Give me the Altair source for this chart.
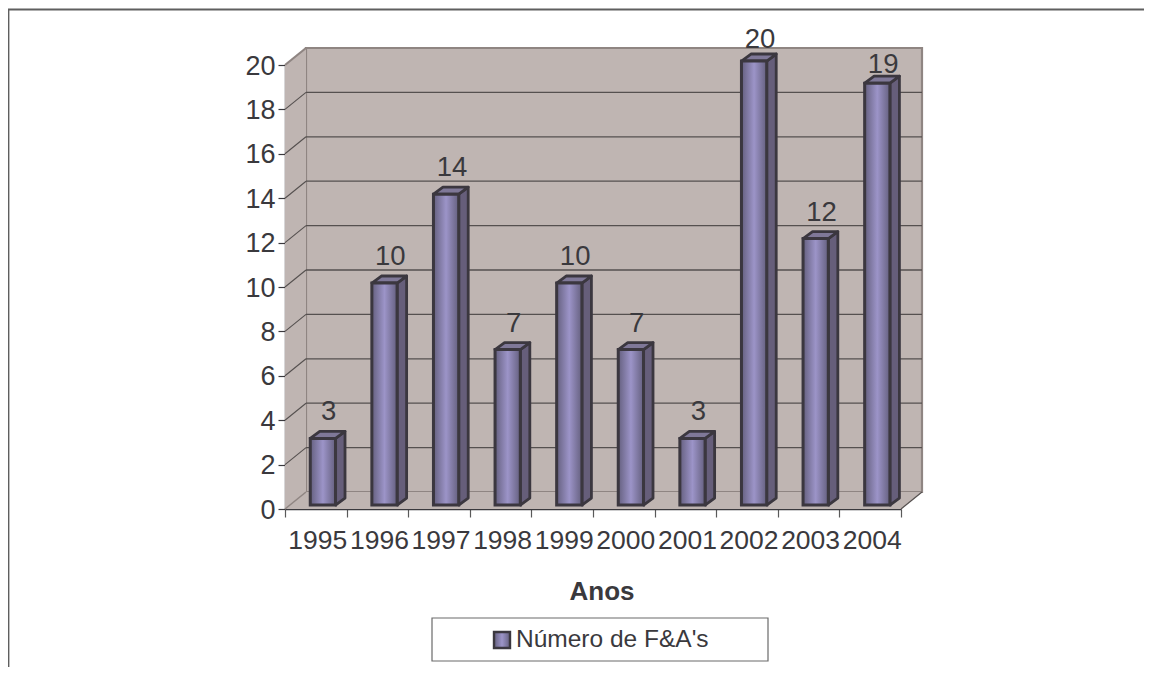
import altair as alt
import pandas as pd

years = [1995, 1996, 1997, 1998, 1999, 2000, 2001, 2002, 2003, 2004]
values = [3, 10, 14, 7, 10, 7, 3, 20, 12, 19]
y_ticks = list(range(0, 21, 2))
inner_grid = list(range(2, 19, 2))

FONT = "Liberation Sans"
INK = "#3a393d"
WALL = "#bfb5b2"
EDGE = "#8f8582"
GRID = "#55504f"
BAR_EDGE = "#3b373f"

# depth of the 3-D box, expressed in data units
XMIN, XMAX = 1995, 2005
PX_X, PX_Y = 616 / 10, 444 / 20
DX, DY = 21 / PX_X, 17 / PX_Y
BAR_L, BAR_R = 0.41, 0.82
BAR_DX, BAR_DY = 9.5 / PX_X, 7 / PX_Y
BASE = 0.18

x_scale = alt.Scale(domain=[XMIN, XMAX], nice=False, zero=False)
y_scale = alt.Scale(domain=[0, 20], nice=False)
X = lambda f: alt.X(f, type="quantitative", scale=x_scale, axis=None, title=None)
Y = lambda f: alt.Y(f, type="quantitative", scale=y_scale, axis=None, title=None)

face_gradient = alt.Gradient(
    gradient="linear", x1=0, x2=1, y1=0, y2=0,
    stops=[alt.GradientStop(color="#65607f", offset=0),
           alt.GradientStop(color="#9c94c8", offset=0.5),
           alt.GradientStop(color="#65607f", offset=1)],
)

# walls and floor
back = pd.DataFrame([dict(x=XMIN + DX, x2=XMAX + DX, y=DY, y2=20 + DY)])
back_wall = alt.Chart(back).mark_rect(fill=WALL, stroke=EDGE, strokeWidth=2.2).encode(
    x=X("x"), x2="x2", y=Y("y"), y2="y2")

side = pd.DataFrame([dict(x=XMIN, y=0, y2=20), dict(x=XMIN + DX, y=DY, y2=20 + DY)])
side_wall = alt.Chart(side).mark_area(fill=WALL, clip=False, opacity=1).encode(
    x=X("x"), y=Y("y"), y2="y2")
side_top = alt.Chart(side).mark_line(color=EDGE, strokeWidth=2.2).encode(
    x=X("x"), y=Y("y2"))

floor_df = pd.DataFrame([dict(y=0, x=XMIN, x2=XMAX), dict(y=DY, x=XMIN + DX, x2=XMAX + DX)])
floor = alt.Chart(floor_df).mark_area(fill=WALL, orient="horizontal", opacity=1).encode(
    y=Y("y"), x=X("x"), x2="x2")
floor_right = alt.Chart(pd.DataFrame([dict(x=XMAX, y=0, x2=XMAX + DX, y2=DY)])).mark_rule(
    color=GRID, strokeWidth=1.2).encode(x=X("x"), x2="x2", y=Y("y"), y2="y2")
floor_left = alt.Chart(pd.DataFrame([dict(x=XMIN, y=0, x2=XMIN + DX, y2=DY)])).mark_rule(
    color=EDGE, strokeWidth=1.6).encode(x=X("x"), x2="x2", y=Y("y"), y2="y2")

# gridlines
grid_df = pd.DataFrame([dict(v=v, v2=v + DY, a=XMIN, b=XMIN + DX, c=XMAX + DX) for v in inner_grid])
grid_back = alt.Chart(grid_df).mark_rule(color=GRID, strokeWidth=1.3).encode(
    x=X("b"), x2="c", y=Y("v2"))
grid_side = alt.Chart(grid_df).mark_rule(color=GRID, strokeWidth=1.1).encode(
    x=X("a"), x2="b", y=Y("v"), y2="v2")

# axes
y_axis = alt.Chart(pd.DataFrame({"v": y_ticks})).mark_point(opacity=0).encode(
    x=alt.value(0),
    y=alt.Y("v:Q", scale=y_scale, title=None, axis=alt.Axis(
        orient="left", values=y_ticks, grid=False, domainColor=INK, domainWidth=1.4, tickColor=INK,
        tickWidth=1.2, tickSize=7, labelFont=FONT, labelFontSize=27, labelColor=INK, labelPadding=3,
        labelOffset=1)),
)
edges = [XMIN + i for i in range(11)]
x_ticks = alt.Chart(pd.DataFrame({"e": edges})).mark_point(opacity=0).encode(
    y=alt.value(444),
    x=alt.X("e:Q", scale=x_scale, title=None, axis=alt.Axis(
        orient="bottom", values=edges, labels=False, grid=False, domainColor=INK, domainWidth=1.4,
        tickColor="#5a5a5a", tickWidth=1.2, tickSize=8)),
)
centres = [y + 0.5 for y in years]
x_labels = alt.Chart(pd.DataFrame({"c": centres})).mark_point(opacity=0).encode(
    y=alt.value(444),
    x=alt.X("c:Q", scale=x_scale, title="Anos", axis=alt.Axis(
        orient="bottom", values=centres, domain=False, ticks=False, grid=False,
        labelExpr="toString(floor(datum.value))",
        labelFont=FONT, labelFontSize=26.5, labelColor=INK, labelOverlap=False, labelPadding=18,
        labelOffset=1.5, labelFlush=False, labelBound=False, titleFont=FONT, titleFontSize=26,
        titleFontWeight="bold", titleColor=INK, titlePadding=25, titleX=316.5)),
)

# bars
bar_rows = [dict(year=y, value=v, l=y + BAR_L, r=y + BAR_R, base=BASE, top=v + BASE) for y, v in zip(years, values)]
bars = pd.DataFrame(bar_rows)

side_rows, top_rows = [], []
for row in bar_rows:
    side_rows += [dict(year=row["year"], x=row["r"], y=row["base"], y2=row["top"]),
                  dict(year=row["year"], x=row["r"] + BAR_DX, y=row["base"] + BAR_DY, y2=row["top"] + BAR_DY)]
    top_rows += [dict(year=row["year"], y=row["top"], x=row["l"], x2=row["r"]),
                 dict(year=row["year"], y=row["top"] + BAR_DY, x=row["l"] + BAR_DX, x2=row["r"] + BAR_DX)]

bar_side = alt.Chart(pd.DataFrame(side_rows)).mark_area(
    fill="#665e7a", stroke=BAR_EDGE, strokeWidth=2.8, opacity=1, strokeJoin="round").encode(
    x=X("x"), y=Y("y"), y2="y2", detail="year:N")
bar_top = alt.Chart(pd.DataFrame(top_rows)).mark_area(
    fill="#7f7898", stroke=BAR_EDGE, strokeWidth=2.8, opacity=1, orient="horizontal", strokeJoin="round").encode(
    y=Y("y"), x=X("x"), x2="x2", detail="year:N")
bar_front = alt.Chart(bars).mark_rect(fill=face_gradient, stroke=BAR_EDGE, strokeWidth=3).encode(
    x=X("l"), x2="r", y=Y("base"), y2="top")

label_df = bars.assign(cx=bars["l"] + 0.3, ly=bars["top"] + BAR_DY)


def value_labels(df, dy):
    return alt.Chart(df).mark_text(
        font=FONT, fontSize=27.5, color=INK, baseline="alphabetic", align="center", dy=dy).encode(
        x=X("cx"), y=Y("ly"), text="value:Q")


labels = [
    value_labels(label_df[label_df["value"] < 19], -11),
    value_labels(label_df[label_df["value"] == 19], -3),   # held under the top of the wall
    value_labels(label_df[label_df["value"] == 20], -6),
]

# outer frame and legend box, placed in the page
frame = pd.DataFrame([dict(x=0, x2=0)])
def hline(px0, px1, py, color="#5f5f5f", w=1.8):
    return alt.Chart(frame).mark_rule(color=color, strokeWidth=w).encode(
        x=alt.value(px0), x2=alt.value(px1), y=alt.value(py))
def vline(px, py0, py1, color="#5f5f5f", w=1.8):
    return alt.Chart(frame).mark_rule(color=color, strokeWidth=w).encode(
        x=alt.value(px), y=alt.value(py0), y2=alt.value(py1))

OX, OY = 285 - 8, 65 - 8  # view origin inside the page margin
def px(v):
    return v - 8 - OX
def py(v):
    return v - 8 - OY

outer = [hline(px(8), px(1152), py(9.5)), vline(px(8.5), py(9), py(675))]

legend_box = alt.Chart(frame).mark_rect(fill="white", stroke="#6a6a6a", strokeWidth=1.2).encode(
    x=alt.value(px(432)), x2=alt.value(px(768)), y=alt.value(py(618)), y2=alt.value(py(661)))
legend_swatch = alt.Chart(frame).mark_rect(fill=face_gradient, stroke=BAR_EDGE, strokeWidth=2.4).encode(
    x=alt.value(px(494)), x2=alt.value(px(510)), y=alt.value(py(632)), y2=alt.value(py(648)))
legend_text = alt.Chart(pd.DataFrame({"t": ["Número de F&A's"]})).mark_text(
    font=FONT, fontSize=24.5, color=INK, align="left", baseline="middle").encode(
    x=alt.value(px(516)), y=alt.value(py(640)), text="t:N")

chart = alt.layer(
    *outer, back_wall, side_wall, floor, floor_left, floor_right, side_top, grid_side, grid_back,
    y_axis, x_ticks, x_labels,
    bar_side, bar_top, bar_front, *labels, legend_box, legend_swatch, legend_text,
).resolve_axis(x="independent", y="independent").properties(
    width=616, height=444, background="white",
    autosize=alt.AutoSizeParams(type="none"),
    padding=alt.Padding(left=OX, top=OY, right=1136 - OX - 616, bottom=659 - OY - 444),
).configure_view(stroke=None)

chart.save("out.html", embed_options={"renderer": "svg", "actions": False})
